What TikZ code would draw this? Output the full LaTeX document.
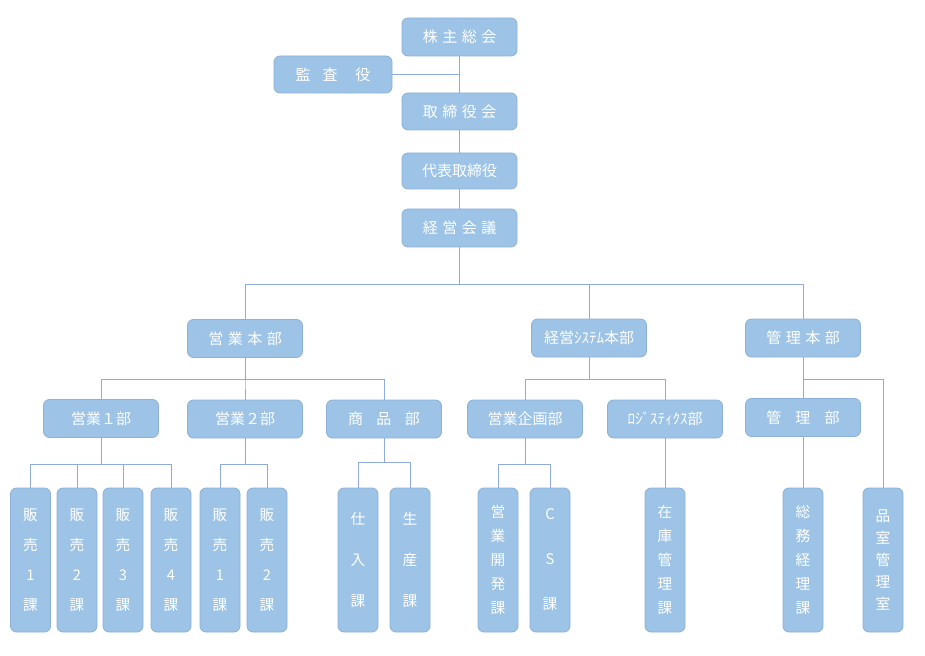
\documentclass[tikz,border=0pt]{standalone}
\usepackage{fontspec}
\newfontfamily\jp{Noto Sans CJK JP}
\definecolor{boxfill}{HTML}{9DC3E6}
\definecolor{boxline}{HTML}{8DB0DA}
\definecolor{connc}{HTML}{8FAADC}
\newcommand\gp[1]{\hspace{#1em}}
\begin{document}
\begin{tikzpicture}[x=0.75pt,y=-0.75pt,
  orgbox/.style={draw=boxline, fill=boxfill, rounded corners=4.5pt, text=white,
    font=\jp\fontsize{11.25}{13}\selectfont, minimum width=86.25pt, minimum height=28.5pt,
    inner sep=0pt, line width=0.6pt},
  vb/.style={orgbox, minimum width=30pt, minimum height=108pt, align=center,
    font=\jp\fontsize{11}{#1}\selectfont},
  link/.style={draw=connc, line width=0.75pt}]
\useasboundingbox (0,0) rectangle (925,656);
% top chain
\node[orgbox] (A) at (459.5,37) {株\gp{0.3}主\gp{0.3}総\gp{0.3}会};
\node[orgbox, minimum width=88.5pt, minimum height=27.75pt] (K) at (333,74.5) {監\gp{0.8}査\gp{1.2}役};
\node[orgbox, minimum height=27.75pt] (B) at (459.5,111.5) {取\gp{0.3}締\gp{0.3}役\gp{0.3}会};
\node[orgbox, minimum height=27pt] (C) at (459.5,171) {代表取締役};
\node[orgbox] (D) at (459.5,228) {経\gp{0.3}営\gp{0.3}会\gp{0.3}議};
% level 2
\node[orgbox] (H1) at (245,338.5) {営\gp{0.3}業\gp{0.3}本\gp{0.3}部};
\node[orgbox] (H2) at (589,338) {経営ｼｽﾃﾑ本部};
\node[orgbox] (H3) at (803,338) {管\gp{0.3}理\gp{0.3}本\gp{0.3}部};
% level 3
\node[orgbox] (E1) at (101,418.5) {営業１部};
\node[orgbox] (E2) at (245,419) {営業２部};
\node[orgbox] (E3) at (384,419) {商\gp{0.9}品\gp{0.9}部};
\node[orgbox] (S1) at (525,419) {営業企画部};
\node[orgbox] (S2) at (665,419) {ﾛｼﾞｽﾃｨｸｽ部};
\node[orgbox] (M1) at (803,417.5) {管\gp{0.95}理\gp{0.95}部};
% level 4
\node[vb=22.5] (v1) at (30.5,560) {販\\売\\1\\課};
\node[vb=22.5] (v2) at (77,560) {販\\売\\2\\課};
\node[vb=22.5] (v3) at (123,560) {販\\売\\3\\課};
\node[vb=22.5] (v4) at (171,560) {販\\売\\4\\課};
\node[vb=22.5] (v5) at (220,560) {販\\売\\1\\課};
\node[vb=22.5] (v6) at (267,560) {販\\売\\2\\課};
\node[vb=30.75] (v7) at (358,560) {仕\\入\\課};
\node[vb=30.75] (v8) at (410,560) {生\\産\\課};
\node[vb=18] (v9) at (498,560) {営\\業\\開\\発\\課};
\node[vb=33.75] (v10) at (550,560) {C\\S\\課};
\node[vb=18] (v11) at (665,560) {在\\庫\\管\\理\\課};
\node[vb=18] (v12) at (803,560) {総\\務\\経\\理\\課};
\node[vb=16.5] (v13) at (883,560) {品\\室\\管\\理\\室};
% bus levels
\coordinate (y1) at (0,284);
\coordinate (y2) at (0,379);
\coordinate (y3) at (0,464);
\coordinate (y3b) at (0,462);
% connectors
\draw[link] (A.south) -- (B.north);
\draw[link] (K.east) -- (K.east -| A.south);
\draw[link] (B.south) -- (C.north);
\draw[link] (C.south) -- (D.north);
\foreach \n in {H1,H2,H3} \draw[link] (D.south) -- (D.south |- y1) -| (\n.north);
\foreach \n in {E1,E2,E3} \draw[link] (H1.south) -- (H1.south |- y2) -| (\n.north);
\foreach \n in {S1,S2} \draw[link] (H2.south) -- (H2.south |- y2) -| (\n.north);
\draw[link] (H3.south) -- (M1.north);
\draw[link] (H3.south) -- (H3.south |- y2) -| (v13.north);
\foreach \n in {v1,v2,v3,v4} \draw[link] (E1.south) -- (E1.south |- y3) -| (\n.north);
\foreach \n in {v5,v6} \draw[link] (E2.south) -- (E2.south |- y3) -| (\n.north);
\foreach \n in {v7,v8} \draw[link] (E3.south) -- (E3.south |- y3b) -| (\n.north);
\foreach \n in {v9,v10} \draw[link] (S1.south) -- (S1.south |- y3) -| (\n.north);
\draw[link] (S2.south) -- (v11.north);
\draw[link] (M1.south) -- (v12.north);
\end{tikzpicture}
\end{document}
